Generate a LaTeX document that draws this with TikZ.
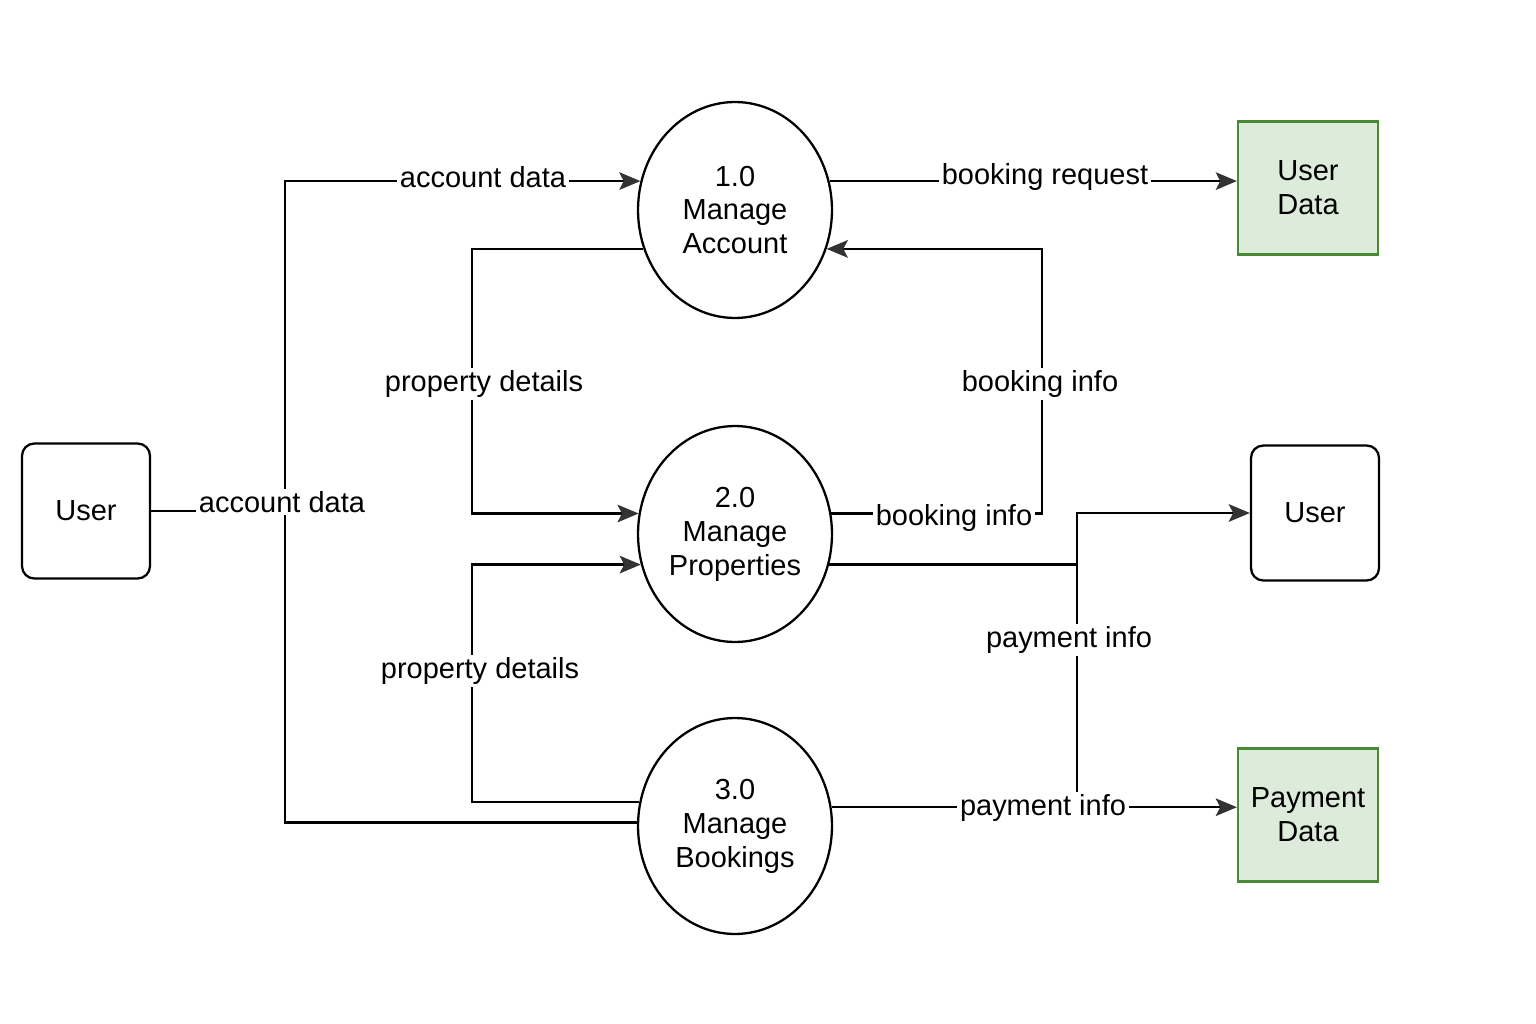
\documentclass[tikz,border=0pt]{standalone}
\usepackage{fontspec}
\setmainfont{Liberation Sans}
\usetikzlibrary{shapes.geometric,arrows.meta}
\definecolor{storefill}{HTML}{DCEBDA}
\definecolor{storeline}{HTML}{4A8A34}
\definecolor{tipgray}{HTML}{333333}
\tikzset{
  ext/.style={draw, rounded corners=7pt, minimum width=2.56cm, minimum height=2.7cm},
  proc/.style={draw, ellipse, minimum width=3.88cm, minimum height=4.32cm, inner sep=0pt, align=center},
  store/.style={draw=storeline, fill=storefill, minimum width=2.8cm, minimum height=2.66cm, align=center},
  flow/.style={-{Stealth[length=12pt,width=10pt,inset=2.5pt,color=tipgray]}},
  lbl/.style={fill=white, inner sep=1.5pt}
}

\begin{document}
\begin{tikzpicture}[x=0.02cm, y=-0.02cm, line width=1.3pt,
  font=\fontsize{16.5}{19.3}\selectfont]
  \useasboundingbox[fill=white] (0,0) rectangle (1536,1024);
  % entities, processes and stores
  \node[ext] (usr1) at (86,511) {User};
  \node[ext] (usr2) at (1315,513) {User};
  \node[proc] (c1) at (735,210) {1.0\\Manage\\Account};
  \node[proc] (c2) at (735,534) {2.0\\Manage\\Properties};
  \node[proc] (c3) at (735,826) {3.0\\Manage\\Bookings};
  \node[store] (udata) at (1308,188) {User\\Data};
  \node[store] (pay) at (1308,815) {Payment\\Data};
  % bends
  \coordinate (aj) at (285,511);
  \coordinate (pj1) at (472,384);
  \coordinate (pj2) at (472,671);
  \coordinate (bj) at (1042,384);
  \coordinate (pj) at (1077,565);
  % flows
  \draw[flow] (c3.178) -| (aj) |- (c1.163);
  \draw (usr1.east) -- (aj);
  \draw[flow] (c1.203) -| (pj1) |- (c2.168);
  \draw[flow] (c3.166) -| (pj2) |- (c2.198);
  \draw[flow] (c1.17) -- (c1.17 -| udata.west);
  \draw[flow] (c2.12) -| (bj) |- (c1.-23);
  \draw (c2.-18) -- (c2.-18 -| pj);
  \draw[flow] (pj |- c3.11) |- (usr2.west);
  \draw[flow] (c3.11) -- (c3.11 -| pay.west);
  % labels
  \node[lbl] at (483,177) {account data};
  \node[lbl] at (282,502) {account data};
  \node[lbl] at (484,384) {property details};
  \node[lbl] at (480,671) {property details};
  \node[lbl] at (1045,177) {booking request};
  \node[lbl] at (1040,384) {booking info};
  \node[lbl] at (954,518) {booking info};
  \node[lbl] at (1069,640) {payment info};
  \node[lbl] at (1043,808) {payment info};
\end{tikzpicture}
\end{document}
